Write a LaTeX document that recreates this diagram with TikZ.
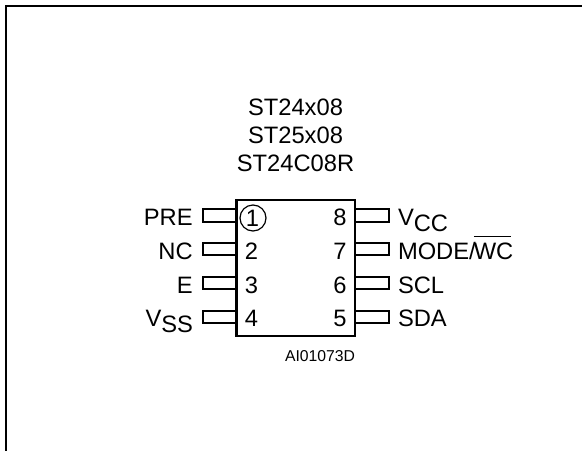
\documentclass[tikz,border=0pt]{standalone}
\usepackage{fontspec}
\setmainfont{Liberation Sans}
\tikzset{
  pinbox/.style={rectangle, draw, line width=1.5pt, minimum width=25.5pt, minimum height=9.5pt, inner sep=0pt, outer sep=0pt},
  chipbox/.style={rectangle, draw, line width=1.6pt, minimum width=88.9pt, minimum height=101.8pt, inner sep=0pt, outer sep=0pt},
  pinname/.style={font=\fontsize{17.8}{19}\selectfont, inner sep=0pt, outer sep=0pt},
}

\begin{document}
\begin{tikzpicture}[x=0.75pt, y=-0.75pt]

            \useasboundingbox (0,0) rectangle (582,450);

            % Cadre
            \coordinate (bl) at (6,450);
            \coordinate (tl) at (6,6);
            \coordinate (tr) at (582,6);
            \draw[line width=1.6pt, line cap=rect] (bl) -- (tl) -- (tr);

            % Titres
            \node[pinname, anchor=base] (t1) at (295.5,115) {ST24x08};
            \node[pinname, anchor=base] (t2) at (295.5,143) {ST25x08};
            \node[pinname, anchor=base] (t3) at (295.5,171.7) {ST24C08R};

            % Broches
            \node[pinbox] (p1) at (219.7,215.4) {};
            \node[pinbox] (p2) at (219.7,249) {};
            \node[pinbox] (p3) at (219.7,282.9) {};
            \node[pinbox] (p4) at (219.7,317) {};
            \node[pinbox] (p8) at (372.3,215.4) {};
            \node[pinbox] (p7) at (372.3,249) {};
            \node[pinbox] (p6) at (372.3,282.9) {};
            \node[pinbox] (p5) at (372.3,317) {};

            % Boitier
            \node[chipbox, fill=white] (chip) at (295.75,268) {};
            \node[circle, draw, line width=0.9pt, minimum size=19.5pt, inner sep=0pt] (mark) at (253,218) {};

            % Numeros
            \node[pinname, anchor=base] (n1) at (252.5,226) {1};
            \node[pinname, anchor=base] (n2) at (251.5,259.3) {2};
            \node[pinname, anchor=base] (n3) at (251.5,293.3) {3};
            \node[pinname, anchor=base] (n4) at (251.5,326) {4};
            \node[pinname, anchor=base] (n8) at (340,225.3) {8};
            \node[pinname, anchor=base] (n7) at (340,259.3) {7};
            \node[pinname, anchor=base] (n6) at (340,293.3) {6};
            \node[pinname, anchor=base] (n5) at (340,326) {5};

            % Noms
            \node[pinname, anchor=base east] (PRE) at (192.7,225.3) {PRE};
            \node[pinname, anchor=base east] (NC) at (192.7,259.3) {NC};
            \node[pinname, anchor=base east] (E) at (192.7,293.3) {E};
            \node[pinname, anchor=base east] (VSS) at (193,326) {V\raisebox{-5pt}{SS}};
            \node[pinname, anchor=base west] (VCC) at (398,225) {V\raisebox{-5pt}{CC}};
            \node[pinname, anchor=base west] (MODE) at (398,259.3) {MODE/\kern-1.5pt\rlap{\raisebox{16.5pt}{\rule{28pt}{1.1pt}}}WC};
            \node[pinname, anchor=base west] (SCL) at (398,293.3) {SCL};
            \node[pinname, anchor=base west] (SDA) at (398,326) {SDA};

            % Reference
            \node[anchor=base, font=\fontsize{11.8}{13}\selectfont, inner sep=0pt] (ref) at (320,361) {AI01073D};

            \end{tikzpicture}
\end{document}
